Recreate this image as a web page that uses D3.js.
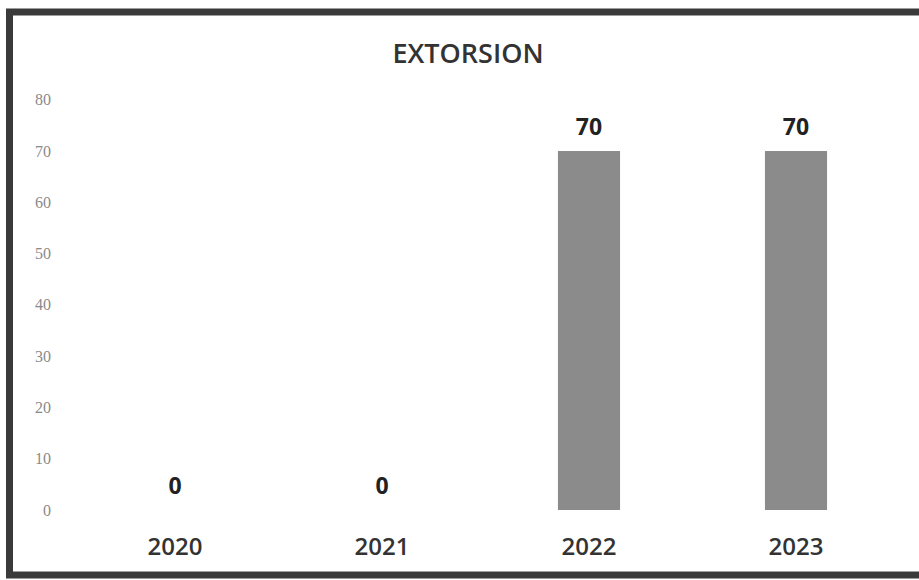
<!DOCTYPE html>
<html>
<head>
<meta charset="utf-8">
<script src="https://cdn.jsdelivr.net/npm/d3@7"></script>
<style>
  body { margin: 0; background: #fff; }
  svg { display: block; }
</style>
</head>
<body>
<svg id="chart"></svg>
<script>
var years = ["2020", "2021", "2022", "2023"];
var values = [0, 0, 70, 70];
var yTicks = [0, 10, 20, 30, 40, 50, 60, 70, 80];
var title = "EXTORSION";

var width = 919;
var height = 580;

var svg = d3.select("svg#chart")
  .attr("width", width)
  .attr("height", height);

/* Frame */
svg.append("rect")
  .attr("x", 9.5)
  .attr("y", 12)
  .attr("width", width + 20)
  .attr("height", 563)
  .attr("fill", "#fff")
  .attr("stroke", "#3a3a3a")
  .attr("stroke-width", 7);

/* Scales */
var xScale = d3.scaleBand()
  .domain(years)
  .range([71.5, 899.5])
  .padding(0);

var yScale = d3.scaleLinear()
  .domain([0, 70])
  .range([510, 151]);

var barWidth = xScale.bandwidth() * 0.3;

/* Title */
svg.append("text")
  .attr("x", 468)
  .attr("y", 63)
  .attr("text-anchor", "middle")
  .attr("font-family", "Open Sans")
  .attr("font-weight", 600)
  .attr("font-size", "27px")
  .attr("fill", "#333")
  .text(title);

/* Y axis labels */
var yAxis = d3.axisLeft(yScale)
  .tickValues(yTicks)
  .tickSize(0)
  .tickPadding(0);

var yg = svg.append("g")
  .attr("transform", "translate(51,0)")
  .call(yAxis);
yg.select(".domain").remove();
yg.selectAll("text")
  .attr("font-family", "Liberation Serif")
  .attr("font-size", "16px")
  .attr("fill", "#8a8a8a");

/* Bars */
svg.append("g")
  .selectAll("rect")
  .data(values)
  .enter()
  .append("rect")
  .attr("x", (d, i) => xScale(years[i]) + (xScale.bandwidth() - barWidth) / 2)
  .attr("y", d => yScale(d))
  .attr("width", barWidth)
  .attr("height", d => yScale(0) - yScale(d))
  .attr("fill", "#8b8b8b");

/* Value labels */
svg.append("g")
  .selectAll("text")
  .data(values)
  .enter()
  .append("text")
  .attr("x", (d, i) => xScale(years[i]) + xScale.bandwidth() / 2)
  .attr("y", d => yScale(d) - 16)
  .attr("text-anchor", "middle")
  .attr("font-family", "Open Sans")
  .attr("font-weight", 700)
  .attr("font-size", "23px")
  .attr("fill", "#222")
  .text(d => d);

/* X axis labels */
var xAxis = d3.axisBottom(xScale)
  .tickSize(0)
  .tickPadding(0);

var xg = svg.append("g")
  .attr("transform", "translate(0,537)")
  .call(xAxis);
xg.select(".domain").remove();
xg.selectAll("text")
  .attr("dy", "0.75em")
  .attr("font-family", "Open Sans")
  .attr("font-weight", 600)
  .attr("font-size", "24px")
  .attr("fill", "#333");
</script>
</body>
</html>
